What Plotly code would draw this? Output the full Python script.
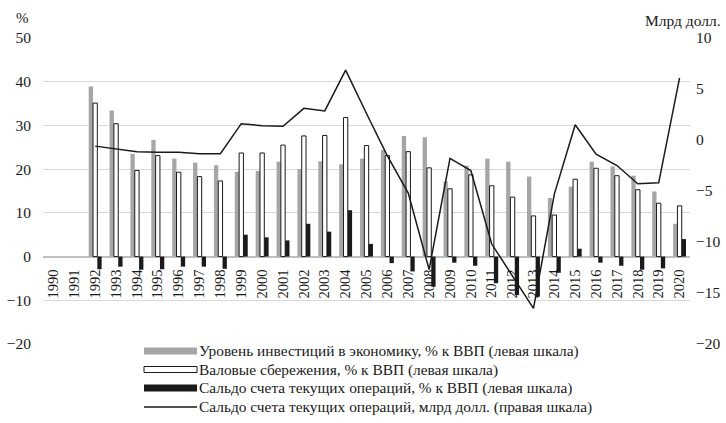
import plotly.graph_objects as go

years = [str(y) for y in range(1990, 2021)]

invest_pct = [None, None, 38.9, 33.4, 23.5, 26.7, 22.4, 21.5, 20.9, 19.4, 19.6, 21.7, 20.0, 21.8, 21.1,
              22.4, 24.4, 27.6, 27.3, 17.2, 20.8, 22.4, 21.7, 18.3, 13.4, 16.0, 21.7, 20.6, 18.5, 14.9, 7.5]
savings_pct = [None, None, 35.1, 30.4, 19.7, 23.1, 19.3, 18.3, 17.3, 23.7, 23.7, 25.5, 27.6, 27.7, 31.8,
               25.4, 23.1, 24.0, 20.3, 15.5, 18.7, 16.2, 13.6, 9.3, 9.5, 17.7, 20.2, 18.5, 15.3, 12.2, 11.6]
ca_pct = [None, None, -2.9, -2.3, -3.0, -2.9, -2.3, -2.3, -2.8, 5.0, 4.4, 3.7, 7.5, 5.7, 10.6,
          2.9, -1.5, -3.4, -6.9, -1.4, -2.1, -6.1, -8.8, -9.2, -3.7, 1.8, -1.4, -2.1, -3.0, -2.7, 4.0]
ca_usd = [None, None, -0.6, -0.85, -1.15, -1.2, -1.2, -1.35, -1.35, 1.6, 1.4, 1.35, 3.1, 2.85, 6.85,
          2.6, -1.55, -5.2, -12.7, -1.8, -3.0, -10.2, -13.4, -16.5, -5.3, 1.5, -1.4, -2.5, -4.3, -4.2, 6.1]

legend_labels = [
    "Уровень инвестиций в экономику, % к ВВП (левая шкала)",
    "Валовые сбережения, % к ВВП (левая шкала)",
    "Сальдо счета текущих операций, % к ВВП (левая шкала)",
    "Сальдо счета текущих операций, млрд долл. (правая шкала)",
]

FONT = "Liberation Serif, Times New Roman, serif"
GREY = "#a6a6a6"
BLACK = "#1a1a1a"

W, H = 726, 423
L, R, T, B = 43, 36, 38, 79
PW, PH = W - L - R, H - T - B


def px(x):
    return (x - L) / PW


def py(y):
    return (H - B - y) / PH


fig = go.Figure()
fig.add_trace(go.Bar(x=years, y=invest_pct, name=legend_labels[0],
                     marker=dict(color=GREY, line=dict(width=0))))
fig.add_trace(go.Bar(x=years, y=savings_pct, name=legend_labels[1],
                     marker=dict(color="white", line=dict(color=BLACK, width=1))))
fig.add_trace(go.Bar(x=years, y=ca_pct, name=legend_labels[2],
                     marker=dict(color=BLACK, line=dict(width=0))))
fig.add_trace(go.Scatter(x=years, y=ca_usd, name=legend_labels[3], yaxis="y2", mode="lines",
                         line=dict(color=BLACK, width=1.5), connectgaps=False))

shapes = []
annotations = []
# custom legend
rows_y = [351, 369.5, 388, 407]
for i, lab in enumerate(legend_labels):
    yc = rows_y[i]
    if i == 0:
        shapes.append(dict(type="rect", xref="paper", yref="paper", x0=px(144), x1=px(197),
                           y0=py(yc - 3.5), y1=py(yc + 3.5), fillcolor=GREY, line=dict(width=0)))
    elif i == 1:
        shapes.append(dict(type="rect", xref="paper", yref="paper", x0=px(144), x1=px(197),
                           y0=py(yc - 3), y1=py(yc + 3), fillcolor="white",
                           line=dict(color=BLACK, width=1)))
    elif i == 2:
        shapes.append(dict(type="rect", xref="paper", yref="paper", x0=px(144), x1=px(197),
                           y0=py(yc - 3.5), y1=py(yc + 3.5), fillcolor=BLACK, line=dict(width=0)))
    else:
        shapes.append(dict(type="line", xref="paper", yref="paper", x0=px(144), x1=px(197),
                           y0=py(yc), y1=py(yc), line=dict(color=BLACK, width=1.5)))
    annotations.append(dict(text=lab, xref="paper", yref="paper", x=px(197), y=py(yc),
                            xanchor="left", yanchor="middle", showarrow=False,
                            font=dict(family=FONT, size=15.4, color=BLACK)))

annotations.append(dict(text="%", xref="paper", yref="paper", x=px(22), y=py(18),
                        xanchor="center", yanchor="middle", showarrow=False,
                        font=dict(family=FONT, size=15, color=BLACK)))
annotations.append(dict(text="Млрд долл.", xref="paper", yref="paper", x=px(723), y=py(21),
                        xanchor="right", yanchor="middle", showarrow=False,
                        font=dict(family=FONT, size=15.5, color=BLACK)))

fig.update_layout(
    width=W, height=H,
    margin=dict(l=L, r=R, t=T, b=B, pad=0),
    paper_bgcolor="white", plot_bgcolor="white",
    barmode="group", bargap=0.38, bargroupgap=0.0,
    showlegend=False,
    font=dict(family=FONT, size=15, color=BLACK),
    shapes=shapes, annotations=annotations,
    xaxis=dict(type="category", range=[-0.5, 30.5], anchor="free", position=20 / 70,
               showgrid=False, showline=False, zeroline=False, ticks="", automargin=False,
               tickangle=-90, tickfont=dict(family=FONT, size=14.5, color=BLACK),
               ticklabelstandoff=9),
    yaxis=dict(range=[-20, 50], dtick=10, showgrid=True, gridcolor="#d9d9d9", gridwidth=1,
               zeroline=True, zerolinecolor="#bfbfbf", zerolinewidth=2, showline=False,
               automargin=False,
               ticks="", tickfont=dict(family=FONT, size=15.5, color=BLACK), ticklabelstandoff=11),
    yaxis2=dict(range=[-20, 10], dtick=5, overlaying="y", side="right", showgrid=False,
                zeroline=False, showline=False, ticks="", automargin=False,
                tickfont=dict(family=FONT, size=15.5, color=BLACK), ticklabelstandoff=5),
)

fig.write_html("out.html", config={"displayModeBar": False},
               post_script="document.body.style.margin='0';document.body.style.overflow='hidden';")
